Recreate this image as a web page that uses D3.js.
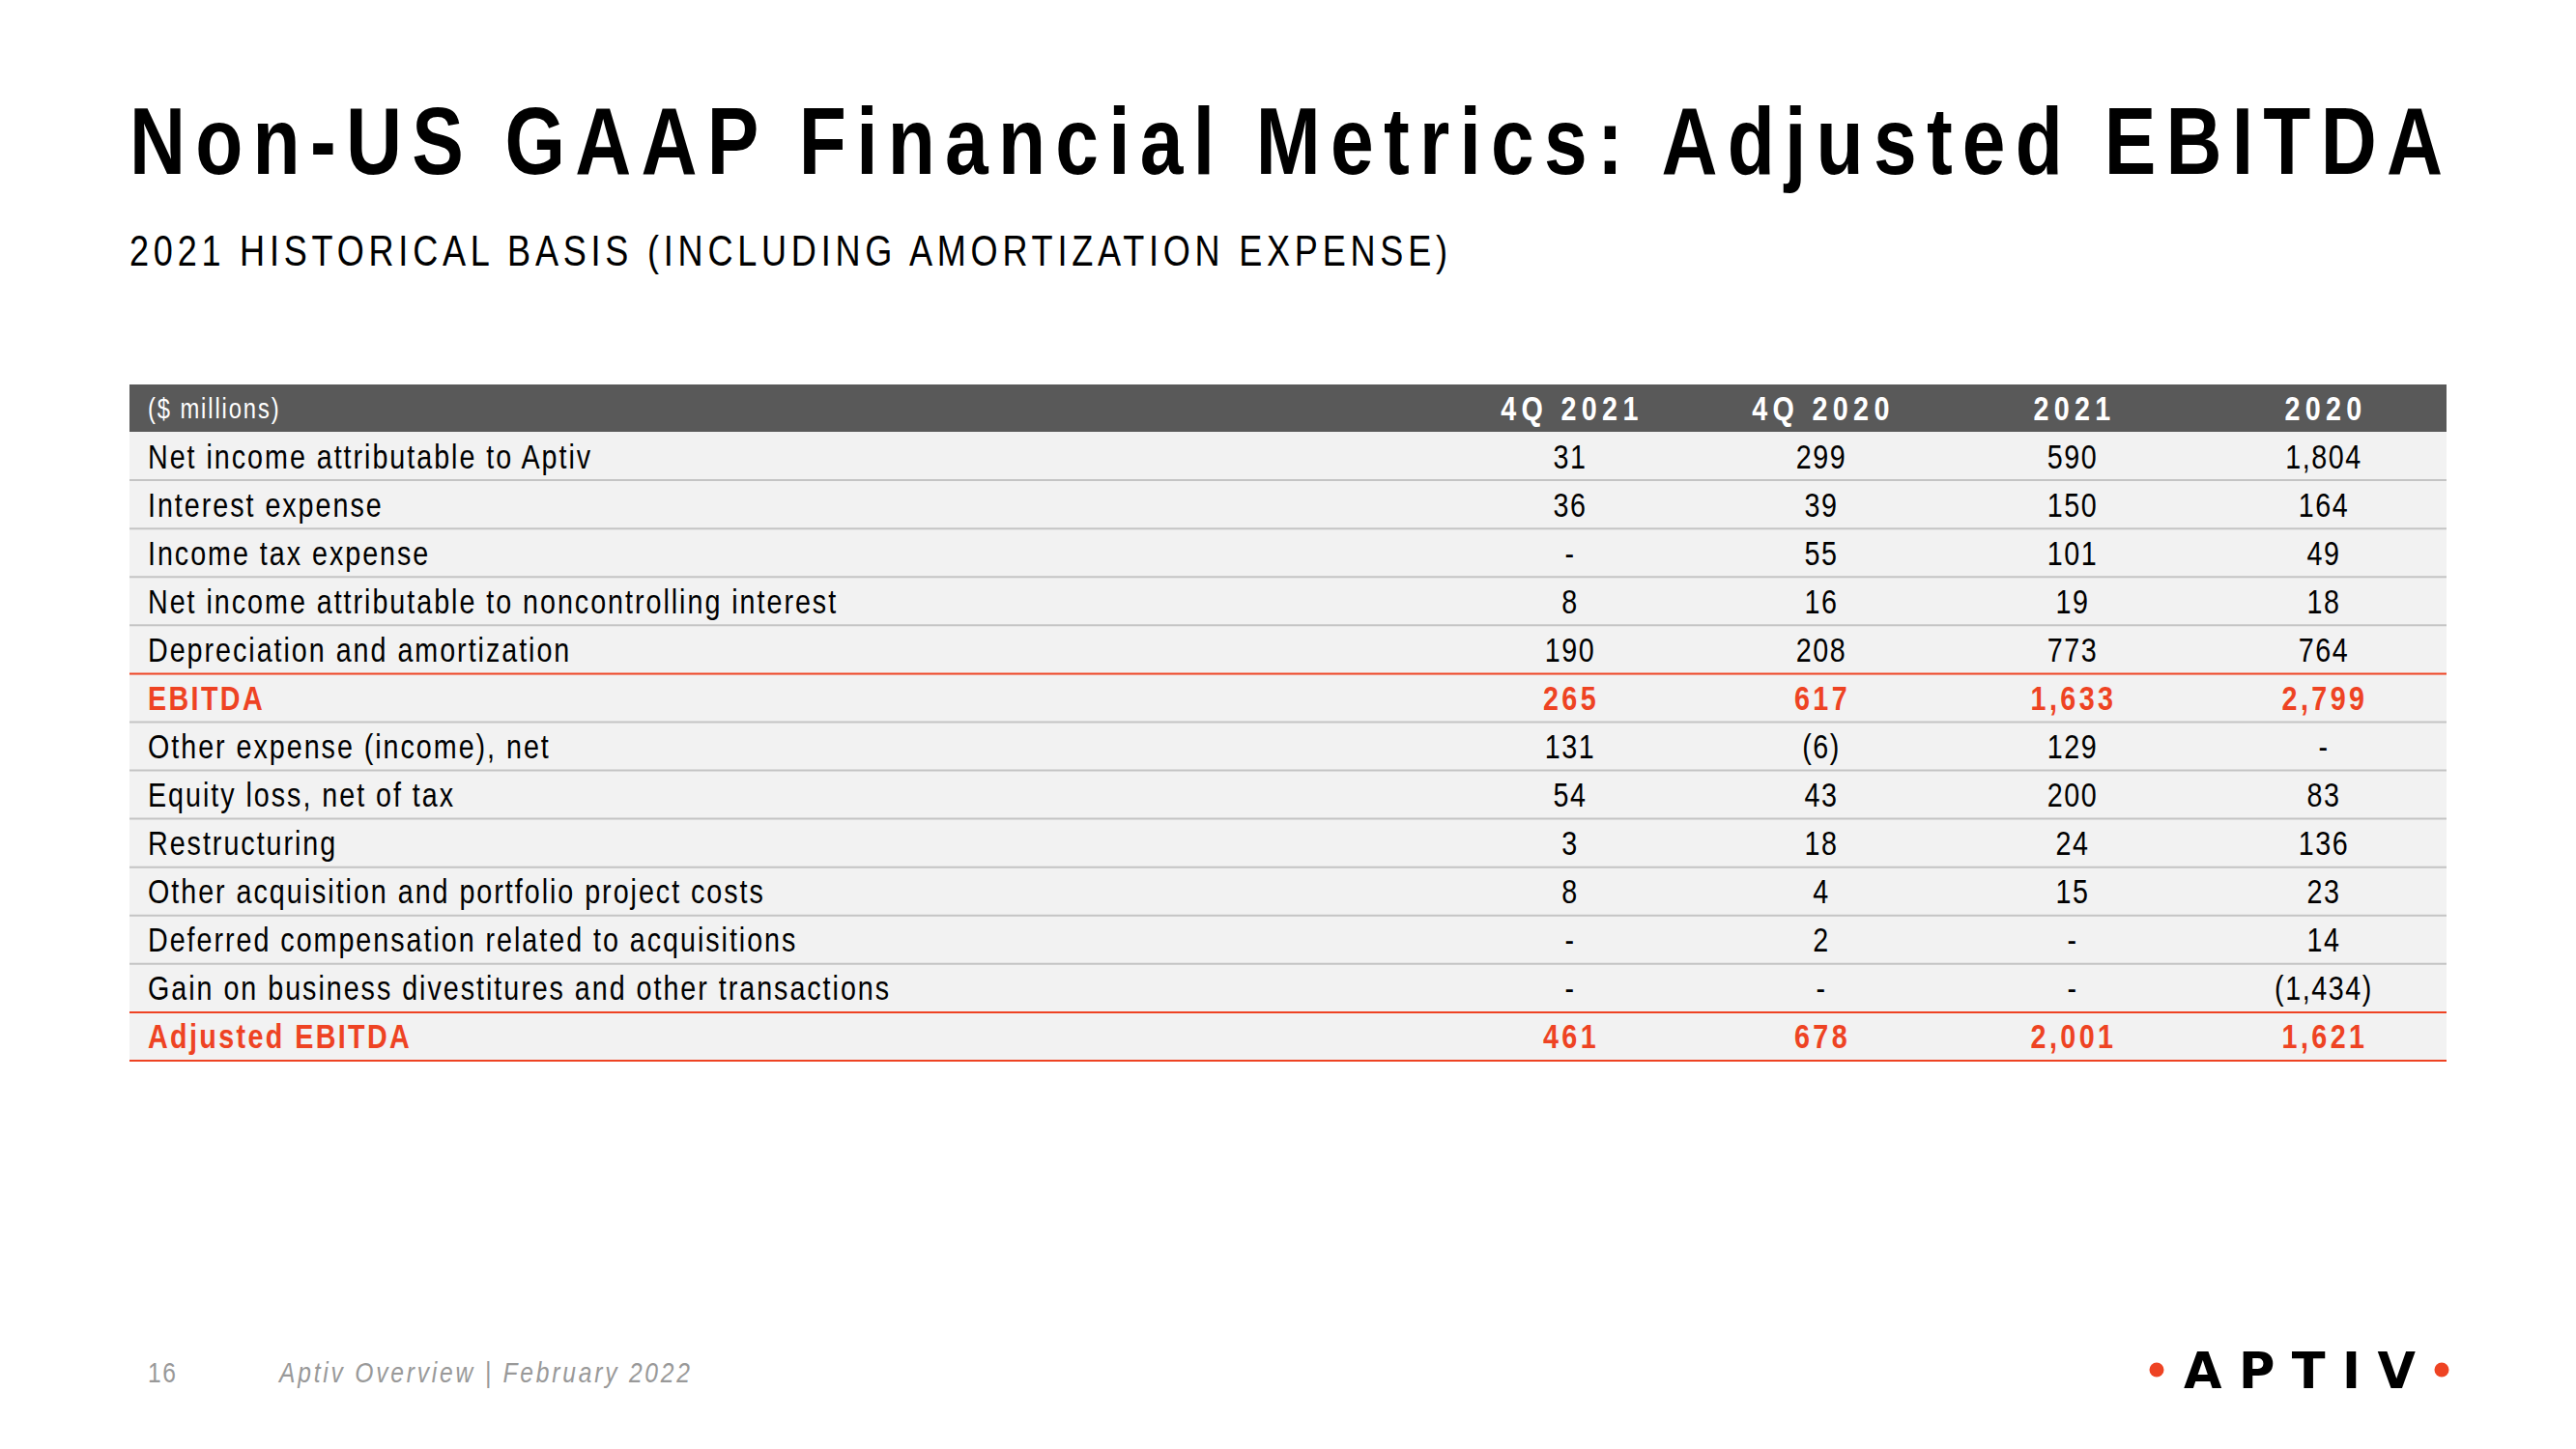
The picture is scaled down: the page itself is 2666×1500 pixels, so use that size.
<!DOCTYPE html>
<html>
<head>
<meta charset="utf-8">
<script src="https://cdn.jsdelivr.net/npm/d3@7"></script>
<style>
  html, body { margin: 0; padding: 0; background: #fff; }
  svg { display: block; }
</style>
</head>
<body>
<svg id="chart" width="2666" height="1500"></svg>
<script>
// ---------- DATA ----------
const titleText = "Non-US GAAP Financial Metrics: Adjusted EBITDA";
const subtitleText = "2021 HISTORICAL BASIS (INCLUDING AMORTIZATION EXPENSE)";
const unitLabel = "($ millions)";
const columns = ["4Q 2021", "4Q 2020", "2021", "2020"];
const rowLabels = [
  "Net income attributable to Aptiv",
  "Interest expense",
  "Income tax expense",
  "Net income attributable to noncontrolling interest",
  "Depreciation and amortization",
  "EBITDA",
  "Other expense (income), net",
  "Equity loss, net of tax",
  "Restructuring",
  "Other acquisition and portfolio project costs",
  "Deferred compensation related to acquisitions",
  "Gain on business divestitures and other transactions",
  "Adjusted EBITDA"
];
// null = "-" ; negative values shown in parentheses
const q4_2021 = [31, 36, null, 8, 190, 265, 131, 54, 3, 8, null, null, 461];
const q4_2020 = [299, 39, 55, 16, 208, 617, -6, 43, 18, 4, 2, null, 678];
const fy2021  = [590, 150, 101, 19, 773, 1633, 129, 200, 24, 15, null, null, 2001];
const fy2020  = [1804, 164, 49, 18, 764, 2799, null, 83, 136, 23, 14, -1434, 1621];
const totalRows = ["EBITDA", "Adjusted EBITDA"];
const footerPage = "16";
const footerText = "Aptiv Overview | February 2022";
const logoText = "APTIV";

const series = [q4_2021, q4_2020, fy2021, fy2020];

// ---------- STYLE ----------
const RED = "#ee4323";
const HEADER_FILL = "#595959";
const ROW_FILL = "#f2f2f2";
const GRID = "#c4c4c4";
const FONT = "'Liberation Sans', Arial, sans-serif";
const SX = 0.82; // horizontal condensation to mimic a narrow face

const svg = d3.select("#chart");

// place text at (x,y) condensed horizontally
function place(sel, xf, yf, s = SX) {
  sel.attr("x", 0).attr("y", 0)
    .attr("transform", (d, i) => `translate(${typeof xf === "function" ? xf(d, i) : xf},${typeof yf === "function" ? yf(d, i) : yf}) scale(${s},1)`);
  return sel;
}

// ---------- TITLE ----------
place(svg.append("text"), 134, 180)
  .attr("font-family", FONT).attr("font-weight", "bold")
  .attr("font-size", 98)
  .attr("textLength", 2394 / SX).attr("lengthAdjust", "spacing")
  .attr("fill", "#000")
  .text(titleText);

place(svg.append("text"), 134, 275)
  .attr("font-family", FONT)
  .attr("font-size", 44)
  .attr("textLength", 1364 / SX).attr("lengthAdjust", "spacing")
  .attr("fill", "#000")
  .text(subtitleText);

// ---------- TABLE ----------
const tableLeft = 134, tableRight = 2532;
const headerTop = 398, headerBottom = 447, tableBottom = 1098;

const y = d3.scaleBand()
  .domain(d3.range(rowLabels.length))
  .range([headerBottom, tableBottom])
  .paddingInner(0).paddingOuter(0);

const x = d3.scaleBand()
  .domain(columns)
  .range([1494, 2534]);

// header
svg.append("rect")
  .attr("x", tableLeft).attr("y", headerTop)
  .attr("width", tableRight - tableLeft).attr("height", headerBottom - headerTop)
  .attr("fill", HEADER_FILL);

place(svg.append("text"), 153, (headerTop + headerBottom) / 2 + 10)
  .attr("font-family", FONT).attr("font-size", 29)
  .attr("letter-spacing", 2.3)
  .attr("fill", "#fff")
  .text(unitLabel);

place(svg.selectAll("text.colhead").data(columns).join("text").attr("class", "colhead"),
      d => x(d) + x.bandwidth() / 2 + 3,
      (headerTop + headerBottom) / 2 + 12.5)
  .attr("text-anchor", "middle")
  .attr("font-family", FONT).attr("font-weight", "bold")
  .attr("font-size", 35).attr("letter-spacing", 6.5)
  .attr("fill", "#fff")
  .text(d => d);

// rows background
svg.selectAll("rect.row")
  .data(rowLabels)
  .join("rect")
  .attr("class", "row")
  .attr("x", tableLeft).attr("y", (d, i) => y(i))
  .attr("width", tableRight - tableLeft).attr("height", y.bandwidth())
  .attr("fill", ROW_FILL);

// row separator lines (bottom of each row)
const isRedLine = i => i === rowLabels.length - 1 || totalRows.includes(rowLabels[i + 1]);
svg.selectAll("line.sep")
  .data(rowLabels)
  .join("line")
  .attr("class", "sep")
  .attr("x1", tableLeft).attr("x2", tableRight)
  .attr("y1", (d, i) => y(i) + y.bandwidth())
  .attr("y2", (d, i) => y(i) + y.bandwidth())
  .attr("stroke", (d, i) => isRedLine(i) ? RED : GRID)
  .attr("stroke-width", 2);

// row labels
const isTotal = d => totalRows.includes(d);
place(svg.selectAll("text.label").data(rowLabels).join("text").attr("class", "label"),
      153,
      (d, i) => y(i) + y.bandwidth() / 2 + 12.5)
  .attr("font-family", FONT)
  .attr("font-size", 35)
  .attr("font-weight", d => isTotal(d) ? "bold" : "normal")
  .attr("letter-spacing", d => isTotal(d) ? 2.9 : 2.4)
  .attr("fill", d => isTotal(d) ? RED : "#000")
  .text(d => d);

// values
const fmt = d3.format(",");
const fmtVal = v => v === null ? "-" : (v < 0 ? "(" + fmt(-v) + ")" : fmt(v));

columns.forEach((col, ci) => {
  place(svg.selectAll("text.val" + ci).data(series[ci]).join("text").attr("class", "val" + ci),
        (d, i) => x(col) + x.bandwidth() / 2 + (isTotal(rowLabels[i]) ? 2 : 1),
        (d, i) => y(i) + y.bandwidth() / 2 + 12.5)
    .attr("text-anchor", "middle")
    .attr("font-family", FONT)
    .attr("font-size", 35)
    .attr("font-weight", (d, i) => isTotal(rowLabels[i]) ? "bold" : "normal")
    .attr("letter-spacing", (d, i) => isTotal(rowLabels[i]) ? 4.2 : 1.9)
    .attr("fill", (d, i) => isTotal(rowLabels[i]) ? RED : "#000")
    .text(d => fmtVal(d));
});

// ---------- FOOTER ----------
place(svg.append("text"), 153, 1431)
  .attr("font-family", FONT).attr("font-size", 30)
  .attr("letter-spacing", 2)
  .attr("fill", "#999")
  .text(footerPage);

place(svg.append("text"), 289, 1431)
  .attr("font-family", FONT).attr("font-size", 30)
  .attr("font-style", "italic")
  .attr("textLength", 425 / SX).attr("lengthAdjust", "spacing")
  .attr("fill", "#999")
  .text(footerText);

// logo
svg.append("text")
  .attr("x", 2260).attr("y", 1437)
  .attr("font-family", "'DejaVu Sans', 'Liberation Sans', sans-serif")
  .attr("font-weight", "bold").attr("font-size", 51)
  .attr("textLength", 240).attr("lengthAdjust", "spacing")
  .attr("fill", "#000")
  .text(logoText);

svg.selectAll("circle.dot")
  .data([2232, 2527])
  .join("circle")
  .attr("class", "dot")
  .attr("cx", d => d).attr("cy", 1418).attr("r", 7.5)
  .attr("fill", RED);
</script>
</body>
</html>
